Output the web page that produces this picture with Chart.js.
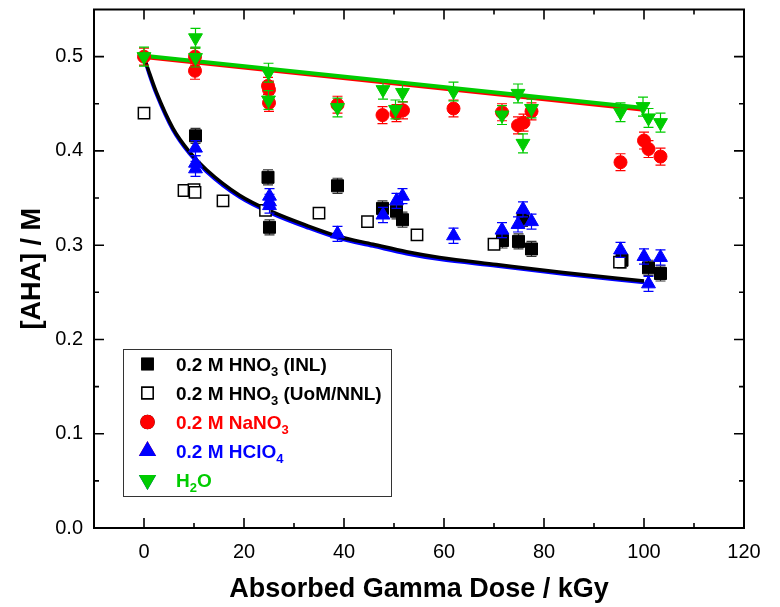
<!DOCTYPE html>
<html>
<head>
<meta charset="utf-8">
<script src="https://cdn.jsdelivr.net/npm/chart.js@4.4.1/dist/chart.umd.min.js"></script>
<style>
  body { margin: 0; background: #fff; }
</style>
</head>
<body>
<canvas id="ahaChart" width="780" height="607"></canvas>
<script>
/* data */

// 0.2 M HNO3 (INL) - filled squares
const inlDose = [10.3, 24.8, 25.1, 38.7, 47.7, 50.5, 51.7, 71.7, 74.9, 75.8, 77.5, 95.6, 100.9, 103.3];
const inlAha  = [0.416, 0.372, 0.319, 0.363, 0.339, 0.336, 0.327, 0.305, 0.304, 0.328, 0.296, 0.284, 0.276, 0.270];
const inlErr  = 0.008;

// 0.2 M HNO3 (UoM/NNL) - open squares
const uomDose = [0, 8.0, 10.0, 10.2, 15.8, 24.3, 35.0, 44.7, 54.6, 70.0, 95.1];
const uomAha  = [0.440, 0.358, 0.359, 0.356, 0.347, 0.337, 0.334, 0.325, 0.311, 0.301, 0.282];

// 0.2 M NaNO3 - red circles
const naDose = [0, 10.2, 10.2, 24.8, 25.0, 25.0, 38.7, 47.7, 50.5, 51.8, 61.9, 71.6, 74.8, 75.9, 77.5, 95.3, 100.0, 100.9, 103.3];
const naAha  = [0.500, 0.500, 0.485, 0.469, 0.465, 0.451, 0.449, 0.438, 0.440, 0.443, 0.445, 0.441, 0.427, 0.430, 0.442, 0.388, 0.411, 0.402, 0.394];
const naErr  = 0.009;

// 0.2 M HClO4 - blue triangles
const clDose = [10.3, 10.3, 10.3, 25.1, 25.1, 25.1, 38.7, 47.8, 50.5, 51.7, 61.9, 71.6, 74.8, 75.8, 77.5, 95.3, 100.0, 100.9, 103.3];
const clAha  = [0.403, 0.387, 0.381, 0.352, 0.346, 0.342, 0.312, 0.332, 0.347, 0.352, 0.310, 0.316, 0.322, 0.338, 0.325, 0.295, 0.288, 0.259, 0.287];
const clErr  = 0.008;

// H2O - green down triangles
const h2oDose = [0, 10.3, 10.3, 24.9, 24.9, 38.7, 47.8, 50.3, 51.7, 61.9, 71.6, 74.8, 75.8, 77.5, 95.3, 99.8, 100.9, 103.3];
const h2oAha  = [0.500, 0.520, 0.499, 0.483, 0.454, 0.446, 0.465, 0.444, 0.462, 0.463, 0.438, 0.461, 0.408, 0.445, 0.441, 0.447, 0.435, 0.430];
const h2oErr  = 0.01;

// fitted curves
const fitDose  = [0, 1, 2.5, 5.8, 9.1, 12.5, 19.1, 25.8, 32.5, 39.1, 45.8, 52.5, 59.1, 70.5, 83.8, 100];
const fitBlack = [0.500, 0.484, 0.462, 0.424, 0.399, 0.380, 0.353, 0.335, 0.321, 0.309, 0.301, 0.293, 0.287, 0.2795, 0.271, 0.262];
const fitBlue  = [0.499, 0.482, 0.460, 0.422, 0.397, 0.378, 0.351, 0.333, 0.319, 0.307, 0.299, 0.291, 0.285, 0.2780, 0.2695, 0.2605];
const lineDose = [0, 100];
const lineRed  = [0.499, 0.443];
const lineGreen = [0.501, 0.4455];

// axes
const xTicks = [0, 20, 40, 60, 80, 100, 120];
const xMinor = [10, 30, 50, 70, 90, 110];
const yTicks = [0.0, 0.1, 0.2, 0.3, 0.4, 0.5];
const yMinor = [0.05, 0.15, 0.25, 0.35, 0.45];

const legendItems = [
  { text: '0.2 M HNO_3 (INL)', color: '#000', style: 'rect', fill: '#000' },
  { text: '0.2 M HNO_3 (UoM/NNL)', color: '#000', style: 'rect', fill: '#fff' },
  { text: '0.2 M NaNO_3', color: '#ff0000', style: 'circle', fill: '#ff0000' },
  { text: '0.2 M HClO_4', color: '#0000ff', style: 'triangle', fill: '#0000ff' },
  { text: 'H_2O', color: '#00cc00', style: 'triangle', rot: 180, fill: '#00cc00' }
];

function pts(xs, ys) {
  return xs.map((x, i) => ({ x: x, y: ys[i] }));
}

/* error bars under each dataset */
const errorBars = {
  id: 'errorBars',
  beforeDatasetDraw(chart, args) {
    const ds = chart.data.datasets[args.index];
    if (!ds.err) return;
    const sx = chart.scales.x, sy = chart.scales.y, ctx = chart.ctx;
    ctx.save();
    ctx.strokeStyle = ds.errColor;
    ctx.lineWidth = 1.2;
    ds.data.forEach(p => {
      const px = sx.getPixelForValue(p.x);
      const t = sy.getPixelForValue(p.y + ds.err);
      const b = sy.getPixelForValue(p.y - ds.err);
      ctx.beginPath();
      ctx.moveTo(px, t); ctx.lineTo(px, b);
      ctx.moveTo(px - 5, t); ctx.lineTo(px + 5, t);
      ctx.moveTo(px - 5, b); ctx.lineTo(px + 5, b);
      ctx.stroke();
    });
    ctx.restore();
  }
};

/* frame with inward ticks on all four sides */
const frame = {
  id: 'frame',
  afterDraw(chart) {
    const { ctx, chartArea: a } = chart;
    const sx = chart.scales.x, sy = chart.scales.y;
    ctx.save();
    ctx.strokeStyle = '#000';
    ctx.lineWidth = 2;
    ctx.strokeRect(a.left, a.top, a.right - a.left, a.bottom - a.top);
    ctx.lineWidth = 1.6;
    ctx.beginPath();
    const tickX = (v, len) => {
      const px = sx.getPixelForValue(v);
      ctx.moveTo(px, a.bottom); ctx.lineTo(px, a.bottom - len);
      ctx.moveTo(px, a.top); ctx.lineTo(px, a.top + len);
    };
    const tickY = (v, len) => {
      const py = sy.getPixelForValue(v);
      ctx.moveTo(a.left, py); ctx.lineTo(a.left + len, py);
      ctx.moveTo(a.right, py); ctx.lineTo(a.right - len, py);
    };
    xTicks.forEach(v => tickX(v, 10));
    xMinor.forEach(v => tickX(v, 5));
    yTicks.forEach(v => tickY(v, 10));
    yMinor.forEach(v => tickY(v, 5));
    ctx.stroke();
    ctx.restore();
  }
};

/* legend box with subscripts */
const legendBox = {
  id: 'legendBox',
  afterDraw(chart) {
    const ctx = chart.ctx;
    ctx.save();
    ctx.strokeStyle = '#333';
    ctx.lineWidth = 1;
    ctx.strokeRect(123.5, 349.5, 268, 147);
    legendItems.forEach((it, i) => {
      const cy = 364 + i * 29;
      Chart.helpers.drawPoint(ctx, {
        pointStyle: it.style, radius: it.style === 'circle' ? 6.5 : (it.style === 'rect' ? 8 : 8.5),
        rotation: it.rot || 0, borderWidth: 1.5
      }, 147.5, cy);
      ctx.fillStyle = it.fill;
      ctx.strokeStyle = it.style === 'rect' && it.fill === '#fff' ? '#000' : it.fill;
      ctx.lineWidth = 1.5;
      ctx.fill();
      ctx.stroke();
      let x = 176;
      ctx.fillStyle = it.color;
      ctx.textBaseline = 'alphabetic';
      it.text.split(/_(\d)/).forEach((part, k) => {
        if (!part) return;
        if (k % 2 === 1) {
          ctx.font = 'bold 13px "Liberation Sans", Arial, sans-serif';
          ctx.fillText(part, x, cy + 12);
        } else {
          ctx.font = 'bold 19px "Liberation Sans", Arial, sans-serif';
          ctx.fillText(part, x, cy + 7);
        }
        x += ctx.measureText(part).width;
      });
    });
    ctx.restore();
  }
};

const font = '"Liberation Sans", Arial, sans-serif';

const config = {
  type: 'scatter',
  data: {
    datasets: [
      { label: 'fit green', data: pts(lineDose, lineGreen), showLine: true, borderColor: '#00cc00', borderWidth: 4, pointRadius: 0, order: 6 },
      { label: 'fit red', data: pts(lineDose, lineRed), showLine: true, borderColor: '#ff0000', borderWidth: 3, pointRadius: 0, order: 7 },
      { label: 'fit black', data: pts(fitDose, fitBlack), showLine: true, borderColor: '#000', borderWidth: 3.5, pointRadius: 0, cubicInterpolationMode: 'monotone', order: 8 },
      { label: 'fit blue', data: pts(fitDose, fitBlue), showLine: true, borderColor: '#0000ff', borderWidth: 3.5, pointRadius: 0, cubicInterpolationMode: 'monotone', order: 9 },
      { label: '0.2 M HNO3 (INL)', data: pts(inlDose, inlAha), pointStyle: 'rect', pointRadius: 8.5, backgroundColor: '#000', borderColor: '#000', borderWidth: 1, err: inlErr, errColor: '#333', order: 5 },
      { label: '0.2 M HNO3 (UoM/NNL)', data: pts(uomDose, uomAha), pointStyle: 'rect', pointRadius: 8, backgroundColor: '#fff', borderColor: '#000', borderWidth: 1.5, order: 4 },
      { label: '0.2 M NaNO3', data: pts(naDose, naAha), pointStyle: 'circle', pointRadius: 6.5, backgroundColor: '#ff0000', borderColor: '#ff0000', borderWidth: 1, err: naErr, errColor: '#ff0000', order: 3 },
      { label: '0.2 M HClO4', data: pts(clDose, clAha), pointStyle: 'triangle', pointRadius: 8, backgroundColor: '#0000ff', borderColor: '#0000ff', borderWidth: 1, err: clErr, errColor: '#0000ff', order: 2 },
      { label: 'H2O', data: pts(h2oDose, h2oAha), pointStyle: 'triangle', rotation: 180, pointRadius: 8, backgroundColor: '#00cc00', borderColor: '#00cc00', borderWidth: 1, err: h2oErr, errColor: '#00cc00', order: 1 }
    ]
  },
  options: {
    responsive: false,
    animation: false,
    events: [],
    layout: { padding: { top: 7, right: 36, left: 0, bottom: 0 } },
    plugins: { legend: { display: false }, tooltip: { enabled: false } },
    scales: {
      x: {
        type: 'linear',
        min: -10, max: 120,
        afterBuildTicks: s => { s.ticks = xTicks.map(v => ({ value: v })); },
        afterFit: s => { s.height = 79; s.paddingLeft = 0; s.paddingRight = 0; },
        grid: { display: false, drawTicks: false },
        border: { display: false },
        ticks: { color: '#000', padding: 12, font: { family: font, size: 20 }, callback: v => String(v) },
        title: { display: true, text: 'Absorbed Gamma Dose / kGy', color: '#000', padding: { top: 0, bottom: 1 }, font: { family: font, size: 27, weight: 'bold' } }
      },
      y: {
        type: 'linear',
        min: 0, max: 0.55,
        afterBuildTicks: s => { s.ticks = yTicks.map(v => ({ value: v })); },
        afterFit: s => { s.width = 94; s.paddingTop = 0; s.paddingBottom = 0; },
        grid: { display: false, drawTicks: false },
        border: { display: false },
        ticks: { color: '#000', padding: 11, font: { family: font, size: 20 }, callback: v => v.toFixed(1) },
        title: { display: true, text: '[AHA] / M', color: '#000', padding: { top: 16, bottom: 0 }, font: { family: font, size: 27, weight: 'bold' } }
      }
    }
  },
  plugins: [errorBars, frame, legendBox]
};

const ahaChart = new Chart(document.getElementById('ahaChart'), config);
</script>
</body>
</html>
